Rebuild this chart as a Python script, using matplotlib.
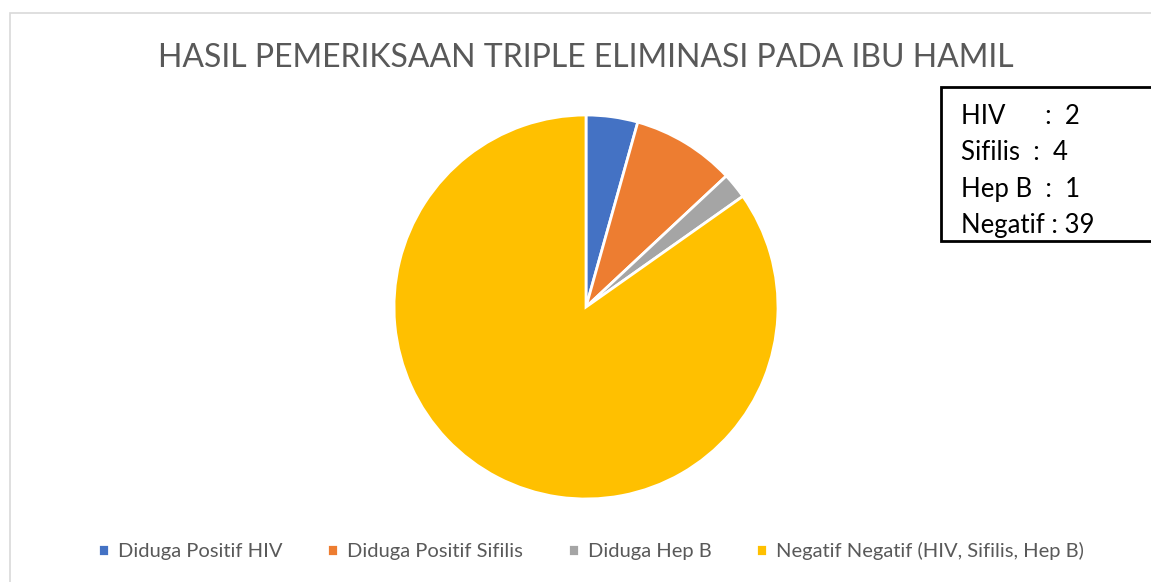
import matplotlib.pyplot as plt
from matplotlib.patches import Rectangle

labels = ['Diduga Positif HIV', 'Diduga Positif Sifilis', 'Diduga Hep B',
          'Negatif Negatif (HIV, Sifilis, Hep B)']
values = [2, 4, 1, 39]
colors = ['#4472C4', '#ED7D31', '#A5A5A5', '#FFC000']
box_lines = ['HIV      :  2', 'Sifilis  :  4', 'Hep B  :  1', 'Negatif : 39']

plt.rcParams['font.family'] = ['Lato', 'DejaVu Sans']

W, H = 1151, 582
fig = plt.figure(figsize=(W / 100, H / 100), dpi=100)

# outer chart border (light gray)
fig.patches.append(Rectangle((10 / W, -0.05), 1.1, 1 - 13 / H + 0.05,
                             transform=fig.transFigure, fill=False,
                             edgecolor='#D9D9D9', linewidth=1.2))

# pie axes: centre (586, 307), radius 192 px
cx, cy, r = 586, 307, 192
ax = fig.add_axes([(cx - r) / W, (H - cy - r) / H, 2 * r / W, 2 * r / H])
wedges, _ = ax.pie(values, colors=colors, startangle=90, counterclock=False,
                   wedgeprops=dict(edgecolor='white', linewidth=2))
ax.set_xlim(-1, 1)
ax.set_ylim(-1, 1)

fig.text(586 / W, 1 - 58 / H, 'HASIL PEMERIKSAAN TRIPLE ELIMINASI PADA IBU HAMIL',
         ha='center', va='center', fontsize=23, color='#595959')

fig.legend(wedges, labels, loc='center', bbox_to_anchor=(591 / W, 1 - 551 / H),
           ncol=4, frameon=False, fontsize=14.5, labelcolor='#595959',
           handlelength=0.55, handleheight=0.55, handletextpad=0.45,
           columnspacing=2.2)

# value box at top right
fig.patches.append(Rectangle((941 / W, 1 - 241 / H), 0.3, 154 / H,
                             transform=fig.transFigure, fill=True,
                             facecolor='white', edgecolor='black', linewidth=2))
for i, line in enumerate(box_lines):
    fig.text(961 / W, 1 - (117 + 36 * i) / H, line, ha='left', va='center',
             fontsize=18.5, color='black')

fig.savefig('out.png', dpi=100)
